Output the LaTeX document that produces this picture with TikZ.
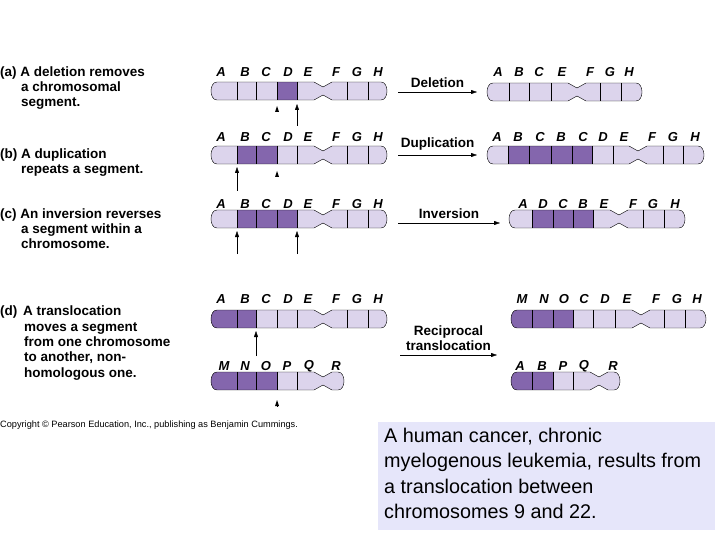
\documentclass[tikz,border=0pt]{standalone}
\usepackage{fontspec}
\setsansfont{Liberation Sans}
\usetikzlibrary{arrows.meta}

\definecolor{chrlight}{HTML}{DCD4EC}
\definecolor{chrdark}{HTML}{8466AD}
\definecolor{notebg}{HTML}{E6E6FA}

% outline of one chromosome: left x, right x, centromere x, top y
\newcommand\chrompath[4]{(#1+7,#4) -- (#3-9,#4) -- (#3,#4+5) -- (#3+9,#4) -- (#2-7,#4)
  .. controls (#2+1,#4) and (#2+1,#4+18) .. (#2-7,#4+18) -- (#3+9,#4+18) -- (#3,#4+13)
  -- (#3-9,#4+18) -- (#1+7,#4+18) .. controls (#1-1,#4+18) and (#1-1,#4) .. (#1+7,#4) -- cycle}
% chromosome: left, right, centromere, top, dark from, dark to, dividers
\newcommand\chromo[7]{%
  \begin{scope}
    \clip \chrompath{#1}{#2}{#3}{#4};
    \fill[chrlight] (#1-2,#4) rectangle (#2+2,#4+18);
    \fill[chrdark] (#5,#4) rectangle (#6,#4+18);
    \foreach \d in {#7} \draw[thin] (\d,#4) -- (\d,#4+18);
  \end{scope}
  \draw[thin] \chrompath{#1}{#2}{#3}{#4};}

\begin{document}
\begin{tikzpicture}[x=1pt,y=-1pt,
  gene/.style={font=\sffamily\bfseries\itshape\fontsize{13}{13}\selectfont},
  caption/.style={font=\sffamily\bfseries\fontsize{13.5}{14.8}\selectfont,align=left,anchor=north west,inner sep=0pt},
  event/.style={font=\sffamily\bfseries\fontsize{13.5}{14.5}\selectfont,align=center},
  cut/.style={-{Triangle[width=4pt,length=6pt]},thin},
  tip/.style={-{Triangle[width=4pt,length=6pt]},line width=0pt}]
\useasboundingbox (0,0) rectangle (720,540);

% (a) deletion
\node[caption] (capa) at (0,67) {(a) A \textbf{deletion} removes\\\hspace{21pt}a chromosomal\\\hspace{21pt}segment.};
\chromo{210}{388}{323}{82}{277}{297}{237,256,277,297,347,368}
\foreach \l/\x [count=\i] in {A/221,B/245,C/266,D/288,E/308,F/336,G/357,H/378}
  \node[gene] (ga\i) at (\x,72) {\l};
\coordinate (aa) at (277,112); \coordinate (ab) at (297,126);
\draw[tip] (aa) -- (277,106);
\draw[cut] (ab) -- (297,104);
\coordinate (ds) at (398,92); \coordinate (de) at (477,92);
\draw[cut] (ds) -- (de) node[event,midway,above=1pt] (tdel) {Deletion};
\chromo{486}{643}{577}{83}{0}{0}{509,529,551,600,621}
\foreach \l/\x [count=\i] in {A/498,B/519,C/539,E/562,F/590,G/610,H/629}
  \node[gene] (gA\i) at (\x,72) {\l};

% (b) duplication
\node[caption] (capb) at (0,149) {(b) A \textbf{duplication}\\\hspace{21pt}repeats a segment.};
\chromo{210}{388}{323}{146}{237}{277}{237,256,277,297,347,368}
\foreach \l/\x [count=\i] in {A/221,B/245,C/266,D/288,E/308,F/336,G/357,H/378}
  \node[gene] (gb\i) at (\x,137) {\l};
\coordinate (ba) at (237,191); \coordinate (bb) at (277,177);
\draw[cut] (ba) -- (237,167);
\draw[tip] (bb) -- (277,171);
\coordinate (us) at (398,155); \coordinate (ue) at (477,155);
\draw[cut] (us) -- (ue) node[event,midway,above=1pt] (tdup) {Duplication};
\chromo{486}{705}{638}{146}{508}{592}{508,529,551,572,592,613,663,683}
\foreach \l/\x [count=\i] in {A/497,B/518,C/540,B/561,C/583,D/603,E/624,F/652,G/673,H/695}
  \node[gene] (gB\i) at (\x,137) {\l};

% (c) inversion
\node[caption] (capc) at (0,209) {(c) An \textbf{inversion} reverses\\\hspace{21pt}a segment within a\\\hspace{21pt}chromosome.};
\chromo{210}{388}{323}{210}{237}{297}{237,256,277,297,347,368}
\foreach \l/\x [count=\i] in {A/221,B/245,C/266,D/288,E/308,F/336,G/357,H/378}
  \node[gene] (gc\i) at (\x,204) {\l};
\coordinate (ca) at (237,254); \coordinate (cb) at (297,254);
\draw[cut] (ca) -- (237,231);
\draw[cut] (cb) -- (297,231);
\coordinate (is) at (398,223); \coordinate (ie) at (500,223);
\draw[cut] (is) -- (ie) node[event,midway,above=1pt] (tinv) {Inversion};
\chromo{508}{686}{619}{210}{532}{593}{532,553,573,593,643,664}
\foreach \l/\x [count=\i] in {A/523,D/543,C/563,B/583,E/604,F/633,G/653,H/675}
  \node[gene] (gC\i) at (\x,204) {\l};

% (d) translocation
\node[caption,font=\sffamily\bfseries\fontsize{13.5}{15.3}\selectfont] (capd) at (0,306) {(d) \hspace{2pt}A \textbf{translocation}\\\hspace{24pt}moves a segment\\\hspace{24pt}from one chromosome\\\hspace{24pt}to another, non-\\\hspace{24pt}homologous one.};
\chromo{210}{388}{323}{310}{200}{256}{237,256,277,297,347,368}
\foreach \l/\x [count=\i] in {A/221,B/245,C/266,D/288,E/308,F/336,G/357,H/378}
  \node[gene] (gd\i) at (\x,299) {\l};
\chromo{210}{345}{323}{372}{200}{277}{237,256,277,297}
\foreach \l/\x [count=\i] in {M/224,N/245,O/266,P/287,Q/309,R/336}
  \node[gene] (ge\i) at (\x,366) {\l};
\coordinate (da) at (256,356); \coordinate (db) at (277,406);
\draw[cut] (da) -- (256,331);
\draw[tip] (db) -- (277,400);
\coordinate (ts) at (400,355); \coordinate (te) at (497,355);
\draw[cut] (ts) -- (te) node[event,midway,above=1pt] (ttra) {Reciprocal\\translocation};
\chromo{510}{707}{641}{310}{500}{573}{532,553,573,593,615,664,685}
\foreach \l/\x [count=\i] in {M/522,N/544,O/564,C/584,D/605,E/627,F/656,G/677,H/697}
  \node[gene] (gD\i) at (\x,299) {\l};
\chromo{510}{621}{599}{372}{500}{553}{532,553,573}
\foreach \l/\x [count=\i] in {A/520,B/542,P/563,Q/584,R/613}
  \node[gene] (gE\i) at (\x,366) {\l};

% footer
\node[anchor=west,inner sep=0pt,font=\sffamily\fontsize{9.2}{10}\selectfont] (copy) at (0,425)
  {Copyright \textcopyright\ Pearson Education, Inc., publishing as Benjamin Cummings.};
\node[fill=notebg,anchor=north west,minimum width=337pt,minimum height=108pt,inner sep=0pt] (note) at (378,422) {};
\node[anchor=north west,inner sep=0pt,align=left,font=\sffamily\fontsize{19.8}{25.3}\selectfont] (notetxt) at (384,428)
  {A human cancer, chronic\\myelogenous leukemia, results from\\a translocation between\\chromosomes 9 and 22.};
\end{tikzpicture}
\end{document}
